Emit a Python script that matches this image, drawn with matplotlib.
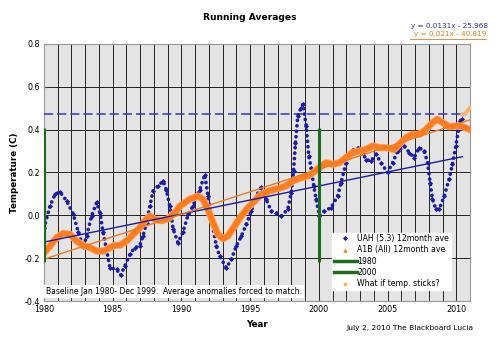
import matplotlib
matplotlib.use("Agg")
import matplotlib.pyplot as plt
from matplotlib.lines import Line2D
import numpy as np

# ---------------- data ----------------
uah_years = [1980.0, 1980.44, 1980.8, 1981.16, 1981.65, 1982.13, 1982.5, 1982.85, 1983.1, 1983.46,
             1983.83, 1984.07, 1984.3, 1984.55, 1984.8, 1985.28, 1985.57, 1985.88, 1986.25, 1986.6,
             1986.97, 1987.2, 1987.46, 1987.7, 1987.94, 1988.3, 1988.66, 1988.9, 1989.15, 1989.4,
             1989.75, 1990.1, 1990.5, 1990.84, 1991.33, 1991.7, 1991.93, 1992.18, 1992.54, 1992.78,
             1993.27, 1993.63, 1994.0, 1994.36, 1994.72, 1995.08, 1995.45, 1995.8, 1996.17, 1996.53,
             1996.9, 1997.26, 1997.74, 1997.99, 1998.16, 1998.3, 1998.47, 1998.71, 1998.85, 1999.08,
             1999.27, 1999.44, 1999.63, 1999.8, 2000.04, 2000.4, 2000.89, 2001.37, 2001.62, 2001.98,
             2002.35, 2002.83, 2003.19, 2003.43, 2003.8, 2004.16, 2004.52, 2005.0, 2005.37, 2005.73,
             2006.22, 2006.58, 2006.94, 2007.3, 2007.67, 2007.91, 2008.1, 2008.27, 2008.52, 2008.76,
             2009.12, 2009.48, 2009.72, 2009.97, 2010.16, 2010.28, 2010.4]
uah_vals = [-0.06, 0.045, 0.098, 0.109, 0.067, 0.005, -0.08, -0.15, -0.097, -0.003,
            0.06, 0.012, -0.08, -0.16, -0.245, -0.252, -0.28, -0.237, -0.182, -0.151,
            -0.143, -0.097, -0.034, 0.043, 0.114, 0.137, 0.16, 0.12, 0.043, -0.065,
            -0.128, -0.08, 0.005, 0.043, 0.12, 0.19, 0.09, -0.019, -0.143, -0.19,
            -0.245, -0.206, -0.143, -0.097, -0.042, 0.02, 0.09, 0.13, 0.075, 0.02,
            0.012, -0.003, 0.028, 0.106, 0.207, 0.34, 0.464, 0.503, 0.519, 0.417,
            0.277, 0.22, 0.137, 0.075, -0.003, 0.02, 0.036, 0.09, 0.153, 0.246,
            0.30, 0.316, 0.293, 0.26, 0.254, 0.285, 0.246, 0.20, 0.246, 0.30,
            0.324, 0.293, 0.27, 0.316, 0.30, 0.246, 0.153, 0.075, 0.028, 0.028,
            0.09, 0.168, 0.238, 0.324, 0.40, 0.44, 0.45]

a1b_years = [1980.0, 1980.44, 1980.92, 1981.4, 1981.89, 1982.37, 1982.85, 1983.34, 1983.83, 1984.3,
             1984.8, 1985.16, 1985.52, 1986.0, 1986.49, 1986.97, 1987.33, 1987.7, 1988.06, 1988.55,
             1989.03, 1989.64, 1989.88, 1990.6, 1991.2, 1991.57, 1991.93, 1992.3, 1992.66, 1993.02,
             1993.38, 1993.87, 1994.36, 1994.84, 1995.32, 1995.81, 1996.41, 1997.02, 1997.62, 1998.1,
             1998.59, 1999.2, 1999.6, 2000.04, 2000.53, 2001.0, 2001.5, 2001.98, 2002.46, 2002.95,
             2003.43, 2003.91, 2004.4, 2004.89, 2005.49, 2005.85, 2006.34, 2006.82, 2007.3, 2007.79,
             2008.27, 2008.63, 2009.0, 2009.48, 2009.97, 2010.45, 2011.0]
a1b_vals = [-0.175, -0.143, -0.104, -0.084, -0.089, -0.12, -0.14, -0.151, -0.167, -0.167,
            -0.151, -0.14, -0.14, -0.12, -0.089, -0.058, -0.026, -0.003, -0.019, -0.025,
            -0.016, 0.02, 0.043, 0.075, 0.09, 0.075, 0.028, -0.034, -0.089, -0.109,
            -0.097, -0.05, -0.003, 0.036, 0.067, 0.098, 0.114, 0.125, 0.137, 0.16,
            0.172, 0.184, 0.2, 0.223, 0.246, 0.238, 0.246, 0.27, 0.293, 0.30,
            0.308, 0.324, 0.316, 0.316, 0.308, 0.332, 0.363, 0.378, 0.378, 0.40,
            0.433, 0.449, 0.433, 0.414, 0.417, 0.414, 0.40]

sticks_years = [2010.45, 2010.6, 2010.75, 2010.9, 2011.0]
sticks_vals = [0.472, 0.48, 0.49, 0.50, 0.505]

# trend lines: slope per year, value at 1980, end year
uah_trend_slope, uah_trend_1980, uah_trend_end = 0.0131, -0.125, 2010.45
a1b_trend_slope, a1b_trend_1980, a1b_trend_end = 0.021, -0.205, 2011.0

marker_years = [1980, 2000]
marker_range = (-0.22, 0.41)
dashed_level = 0.472
dashed_end = 2010.4

eq_uah = "y = 0.0131x - 25.968"
eq_a1b = "y = 0.021x - 40.819"

# ---------------- styles ----------------
BLUE = "#1c1ca8"
ORANGE = "#ff7a1a"
GREEN = "#1e6b1e"
PEACH = "#f7b36a"

plt.rcParams['font.family'] = ['DejaVu Sans']

fig = plt.figure(figsize=(5.0, 3.41), dpi=100)
ax = fig.add_axes([0.088, 0.1173, 0.852, 0.7537])
ax.set_facecolor('#e4e4e4')
ax.set_xlim(1980, 2011)
ax.set_ylim(-0.4, 0.8)

ax.set_xticks(np.arange(1980, 2011, 5))
ax.set_xticks(np.arange(1980, 2012, 1), minor=True)
ax.set_yticks(np.arange(-0.4, 0.81, 0.2))
ax.set_yticklabels([f"{v:.1f}" for v in np.arange(-0.4, 0.81, 0.2)])
ax.grid(True, which='both', axis='x', color='#222222', lw=0.7)
ax.grid(True, which='major', axis='y', color='#222222', lw=0.7)
ax.set_axisbelow(True)
ax.tick_params(axis='both', which='major', labelsize=5.8, length=2.5, direction='in', pad=3, color='#444444')
ax.tick_params(axis='x', which='minor', length=2, direction='in', color='#444444')
for s in ax.spines.values():
    s.set_color('#999999')
    s.set_linewidth(0.8)

# dashed level
ax.hlines(dashed_level, 1980, dashed_end, colors='#3535cc', linestyles=(0, (6, 2.6)), lw=1.1, zorder=3)

# UAH points (dense dotted trace through the read values, plus the values themselves)
ax.plot(uah_years, uah_vals, linestyle=(0, (0.01, 1.45)), lw=2.7, dash_capstyle='round',
        color=BLUE, zorder=4)
ax.plot(uah_years, uah_vals, linestyle='none', marker='D', markersize=2.6,
        color=BLUE, markeredgewidth=0, zorder=4)

# A1B thick
ax.plot(a1b_years, a1b_vals, color='#ffa060', lw=5.2, solid_capstyle='round', zorder=5)
ax.plot(a1b_years, a1b_vals, color=ORANGE, lw=3.8, solid_capstyle='round', zorder=5)
ax.plot(a1b_years, a1b_vals, linestyle='none', marker='^', markersize=2.8,
        color='#f58a30', markeredgewidth=0, zorder=5)

# what-if points
ax.plot(sticks_years, sticks_vals, linestyle='none', marker='o', markersize=3.2,
        color=PEACH, markeredgewidth=0, zorder=6)

# trend lines
ux = np.array([1980, uah_trend_end])
ax.plot(ux, uah_trend_1980 + uah_trend_slope * (ux - 1980), color=BLUE, lw=1.0, zorder=6)
ox = np.array([1980, a1b_trend_end])
ax.plot(ox, a1b_trend_1980 + a1b_trend_slope * (ox - 1980), color='#f07a20', lw=1.0, zorder=6)

# vertical green markers
ax.vlines(marker_years, marker_range[0], marker_range[1], colors=GREEN, lw=2.2, zorder=7)

# baseline note
ax.text(0.004, 0.018, "Baseline Jan 1980- Dec 1999.  Average anomalies forced to match.",
        transform=ax.transAxes, fontsize=5.5, va='bottom', ha='left', zorder=8,
        bbox=dict(facecolor='white', edgecolor='none', pad=1.5))

# legend
handles = [
    Line2D([], [], linestyle='none', marker='D', markersize=2.6, color=BLUE, markeredgewidth=0),
    Line2D([], [], linestyle='none', marker='^', markersize=3.2, color=ORANGE, markeredgewidth=0),
    Line2D([], [], color=GREEN, lw=2.5),
    Line2D([], [], color=GREEN, lw=2.5),
    Line2D([], [], linestyle='none', marker='o', markersize=2.8, color=PEACH, markeredgewidth=0),
]
labels = ["UAH (5.3) 12month ave", "A1B (All) 12month ave", "1980", "2000", "What if temp. sticks?"]
leg = ax.legend(handles, labels, loc='lower left', bbox_to_anchor=(0.676, 0.043),
                fontsize=5.6, frameon=True, fancybox=False, framealpha=1,
                facecolor='white', edgecolor='white', borderpad=0.2,
                handlelength=3.0, handletextpad=0.05, labelspacing=0.3, borderaxespad=0)
leg.set_zorder(9)

# labels
ax.set_xlabel("Year", fontsize=6.3, fontweight='bold', labelpad=4)
ax.set_ylabel("Temperature (C)", fontsize=6.3, fontweight='bold', labelpad=4)
fig.text(0.5, 0.95, "Running Averages", ha='center', va='center', fontsize=6.6, fontweight='bold')
fig.text(0.976, 0.925, eq_uah, ha='right', va='center', fontsize=5.2, color='#2a2ab0')
fig.text(0.972, 0.900, eq_a1b, ha='right', va='center', fontsize=5.2, color='#e87a1a')
fig.add_artist(Line2D([0.820, 0.972], [0.886, 0.886], transform=fig.transFigure, color='#e87a1a', lw=0.6))
fig.text(0.947, 0.038, "July 2, 2010 The Blackboard Lucia", ha='right', va='center', fontsize=5.4)

fig.savefig("out.png", dpi=100, facecolor='white')
